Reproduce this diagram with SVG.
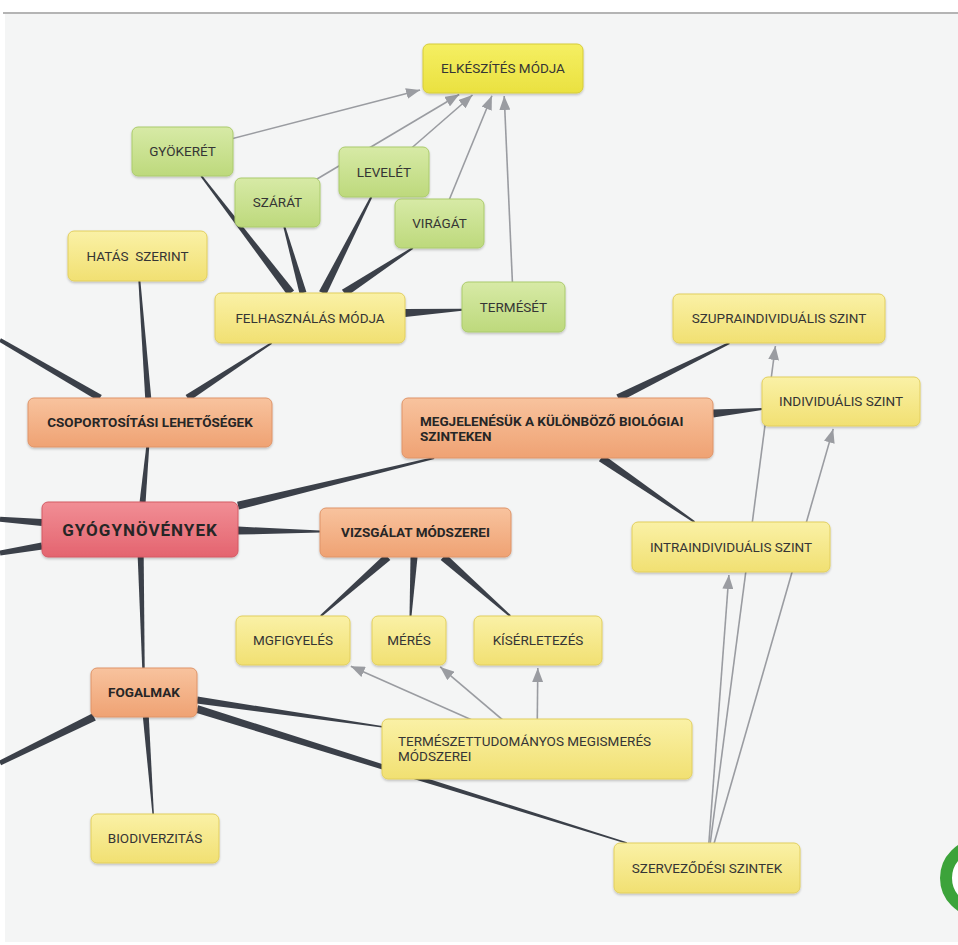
<svg xmlns="http://www.w3.org/2000/svg" width="958" height="945" viewBox="0 0 958 945">
<defs>
<linearGradient id="gy" x1="0" y1="0" x2="0" y2="1"><stop offset="0" stop-color="#faf1a6"/><stop offset="1" stop-color="#f1e072"/></linearGradient>
<linearGradient id="gyb" x1="0" y1="0" x2="0" y2="1"><stop offset="0" stop-color="#f5ef62"/><stop offset="1" stop-color="#eae140"/></linearGradient>
<linearGradient id="gg" x1="0" y1="0" x2="0" y2="1"><stop offset="0" stop-color="#d7eaa6"/><stop offset="1" stop-color="#bdd97c"/></linearGradient>
<linearGradient id="go" x1="0" y1="0" x2="0" y2="1"><stop offset="0" stop-color="#f8c39e"/><stop offset="1" stop-color="#efa273"/></linearGradient>
<linearGradient id="gr" x1="0" y1="0" x2="0" y2="1"><stop offset="0" stop-color="#f18e95"/><stop offset="1" stop-color="#e4646f"/></linearGradient>
<filter id="sh" x="-10%" y="-20%" width="120%" height="150%"><feDropShadow dx="0" dy="1.5" stdDeviation="1.2" flood-color="#000" flood-opacity="0.22"/></filter>
<marker id="ah" viewBox="0 0 14 11" refX="14" refY="5.5" markerWidth="14" markerHeight="11" markerUnits="userSpaceOnUse" orient="auto"><path d="M0,0 L14,5.5 L0,11 z" fill="#9a9ca1"/></marker>
</defs>
<style>
.t{font-family:Roboto,"Liberation Sans",sans-serif;font-size:13.5px;fill:#353535;text-anchor:middle}
.b{font-weight:bold;fill:#262626}
.l{text-anchor:start}
.c{fill:#3b4049}
.a{stroke:#9a9ca1;stroke-width:1.6;fill:none;marker-end:url(#ah)}
.nd{filter:url(#sh);stroke-width:1}
.y{fill:url(#gy);stroke:#e2cf5e}
.yb{fill:url(#gyb);stroke:#d6cc3a}
.g{fill:url(#gg);stroke:#abcb6c}
.o{fill:url(#go);stroke:#df9468}
.r{fill:url(#gr);stroke:#d45a64}
</style>
<rect x="0" y="0" width="958" height="945" fill="#ffffff"/>
<rect x="5" y="14" width="953" height="928" fill="#f4f5f5"/>
<line x1="3" y1="13" x2="958" y2="13" stroke="#b4b4b4" stroke-width="2"/>

<g id="connectors">
<polygon class="c" points="145.6,502.3 149.2,447.1 146.2,446.9 139.6,501.7"/>
<polygon class="c" points="238.9,509.6 434.3,459 433.9,457 237.1,501.8"/>
<polygon class="c" points="238,534.6 320,532.5 320,530.5 238,526.6"/>
<polygon class="c" points="137.7,557.1 142.2,668 144.7,668 143.7,556.9"/>
<polygon class="c" points="42.25,518.9 0.18,516.8 -0.18,521.8 41.75,525.9"/>
<polygon class="c" points="41.4,542.55 -0.42,550.6 0.42,555.6 42.6,549.45"/>
<polygon class="c" points="101.76,394.97 1,338.27 -1,341.73 98.24,401.03"/>
<polygon class="c" points="151.2,397.8 140.4,280.9 138.4,281.1 145.2,398.2"/>
<polygon class="c" points="189.4,400.9 272.2,343.8 271.2,342.2 185.6,395.1"/>
<polygon class="c" points="294.1,290.6 202.1,175.4 200.5,176.6 287.7,295.4"/>
<polygon class="c" points="306.4,292.05 285.4,226.7 283.4,227.3 299.6,293.95"/>
<polygon class="c" points="326.3,294.8 372.2,197.45 370.4,196.55 319.1,291.2"/>
<polygon class="c" points="346.7,296.2 413.4,248.8 412.2,247.2 341.9,289.8"/>
<polygon class="c" points="405.2,316.9 462.1,310.8 461.9,308.8 404.8,308.9"/>
<polygon class="c" points="620,401.6 729.8,343.9 729,342.1 616.4,394.4"/>
<polygon class="c" points="713.4,417.5 762.1,409.9 761.9,407.9 712.6,409.5"/>
<polygon class="c" points="598.9,461.3 693.9,522.8 695.1,521.2 603.5,454.7"/>
<polygon class="c" points="385.1,554 320.1,615.25 321.5,616.75 390.3,560"/>
<polygon class="c" points="410.5,556.8 409.5,615.9 411.5,616.1 417.5,557.2"/>
<polygon class="c" points="440.7,560 509.5,616.75 510.9,615.25 445.9,554"/>
<polygon class="c" points="92.2,713.4 -1.1,760.8 1.1,765.2 95.8,720.6"/>
<polygon class="c" points="142.9,717.2 152.4,814.1 153.9,813.9 148.8,716.8"/>
<polygon class="c" points="196.5,703.6 381.9,727.4 382.1,726 197.5,696.6"/>
<polygon class="c" points="195.8,712.8 626.6,843.7 627,842.3 198.2,705.2"/>

<line class="a" x1="182.5" y1="151.5" x2="420.1" y2="90"/>
<line class="a" x1="277.5" y1="202.5" x2="459.2" y2="94.5"/>
<line class="a" x1="384" y1="172" x2="472.5" y2="95"/>
<line class="a" x1="439.5" y1="223.5" x2="491.9" y2="95.8"/>
<line class="a" x1="513.5" y1="307" x2="504.2" y2="96"/>
<line class="a" x1="537" y1="749" x2="350.8" y2="666.2"/>
<line class="a" x1="537" y1="749" x2="440.2" y2="666.9"/>
<line class="a" x1="537" y1="749" x2="537.8" y2="668"/>
<line class="a" x1="707" y1="868" x2="728.9" y2="575"/>
<line class="a" x1="707" y1="868" x2="775.4" y2="346"/>
<line class="a" x1="707" y1="868" x2="833.2" y2="428.9"/>
</g>

<g id="n-elkeszites"><rect class="nd yb" x="423" y="44" width="160" height="49" rx="6"/><text class="t" x="503" y="73">ELKÉSZÍTÉS MÓDJA</text></g>
<g id="n-gyokeret"><rect class="nd g" x="132" y="127" width="101" height="49" rx="6"/><text class="t" x="182.5" y="156">GYÖKERÉT</text></g>
<g id="n-levelet"><rect class="nd g" x="339" y="147" width="90" height="50" rx="6"/><text class="t" x="384" y="176.5">LEVELÉT</text></g>
<g id="n-szarat"><rect class="nd g" x="235" y="178" width="85" height="49" rx="6"/><text class="t" x="277.5" y="207">SZÁRÁT</text></g>
<g id="n-viragat"><rect class="nd g" x="395" y="199" width="89" height="49" rx="6"/><text class="t" x="439.5" y="228">VIRÁGÁT</text></g>
<g id="n-termeset"><rect class="nd g" x="462" y="282" width="103" height="50" rx="6"/><text class="t" x="513.5" y="311.5">TERMÉSÉT</text></g>
<g id="n-felhasznalas"><rect class="nd y" x="215" y="293" width="190" height="50" rx="6"/><text class="t" x="310" y="322.5">FELHASZNÁLÁS MÓDJA</text></g>
<g id="n-hatas"><rect class="nd y" x="68" y="231" width="139" height="50" rx="6"/><text class="t" x="137.5" y="260.5" xml:space="preserve">HATÁS  SZERINT</text></g>
<g id="n-csoport"><rect class="nd o" x="28" y="398" width="244" height="49" rx="6"/><text class="t b" x="150" y="427">CSOPORTOSÍTÁSI LEHETŐSÉGEK</text></g>
<g id="n-megjelenes"><rect class="nd o" x="402" y="398" width="311" height="60" rx="6"/><text class="t b l" x="420" y="426">MEGJELENÉSÜK A KÜLÖNBÖZŐ BIOLÓGIAI</text><text class="t b l" x="420" y="441">SZINTEKEN</text></g>
<g id="n-szupra"><rect class="nd y" x="673" y="294" width="212" height="49" rx="6"/><text class="t" x="779" y="323">SZUPRAINDIVIDUÁLIS SZINT</text></g>
<g id="n-indiv"><rect class="nd y" x="762" y="377" width="158" height="49" rx="6"/><text class="t" x="841" y="406">INDIVIDUÁLIS SZINT</text></g>
<g id="n-intra"><rect class="nd y" x="632" y="522" width="198" height="50" rx="6"/><text class="t" x="731" y="551.5">INTRAINDIVIDUÁLIS SZINT</text></g>
<g id="n-gyogy"><rect class="nd r" x="42" y="502" width="196" height="55" rx="6"/><text class="t b" x="140" y="535.5" style="font-size:17px;letter-spacing:1px">GYÓGYNÖVÉNYEK</text></g>
<g id="n-vizsgalat"><rect class="nd o" x="320" y="508" width="191" height="49" rx="6"/><text class="t b" x="415.5" y="537">VIZSGÁLAT MÓDSZEREI</text></g>
<g id="n-megfigyeles"><rect class="nd y" x="236" y="616" width="114" height="49" rx="6"/><text class="t" x="293" y="645">MGFIGYELÉS</text></g>
<g id="n-meres"><rect class="nd y" x="372" y="616" width="74" height="49" rx="6"/><text class="t" x="409" y="645">MÉRÉS</text></g>
<g id="n-kiserletezes"><rect class="nd y" x="474" y="616" width="128" height="49" rx="6"/><text class="t" x="538" y="645">KÍSÉRLETEZÉS</text></g>
<g id="n-fogalmak"><rect class="nd o" x="91" y="668" width="106" height="49" rx="6"/><text class="t b" x="144" y="697">FOGALMAK</text></g>
<g id="n-termtud"><rect class="nd y" x="382" y="719" width="310" height="60" rx="6"/><text class="t l" x="398" y="746">TERMÉSZETTUDOMÁNYOS MEGISMERÉS</text><text class="t l" x="398" y="761">MÓDSZEREI</text></g>
<g id="n-biodiv"><rect class="nd y" x="91" y="814" width="128" height="49" rx="6"/><text class="t" x="155" y="843">BIODIVERZITÁS</text></g>
<g id="n-szervezodes"><rect class="nd y" x="614" y="843" width="186" height="50" rx="6"/><text class="t" x="707" y="872.5">SZERVEZŐDÉSI SZINTEK</text></g>

<circle cx="979" cy="878" r="33" fill="#ffffff" stroke="#3ca33a" stroke-width="12"/>
</svg>
